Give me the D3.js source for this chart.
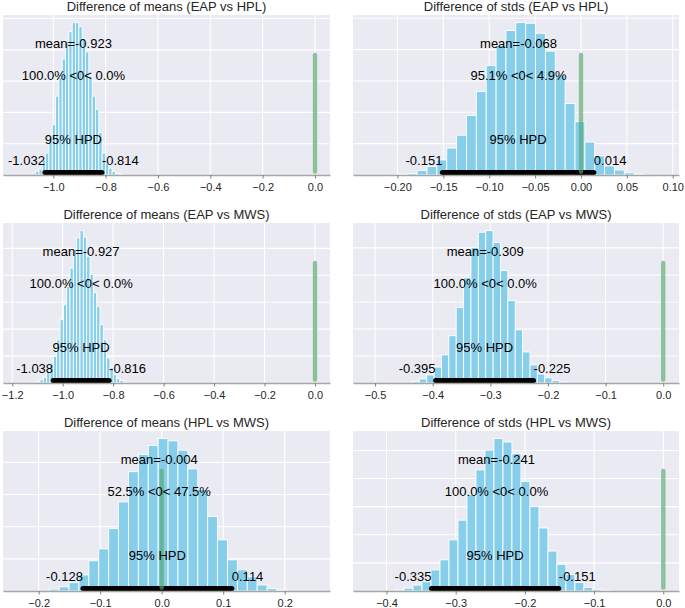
<!DOCTYPE html>
<html><head><meta charset="utf-8">
<script src="https://cdn.jsdelivr.net/npm/d3@7"></script>
<style>
body{margin:0;background:#fff}
svg{display:block}
text{font-family:"Liberation Sans",Arial,Helvetica,sans-serif}
</style>
</head><body>
<svg id="chart" width="685" height="608"></svg>
<script>
// ---- data ----
const titles = [
  "Difference of means (EAP vs HPL)", "Difference of stds (EAP vs HPL)",
  "Difference of means (EAP vs MWS)", "Difference of stds (EAP vs MWS)",
  "Difference of means (HPL vs MWS)", "Difference of stds (HPL vs MWS)"
];
const means   = [-0.923, -0.068, -0.927, -0.309, -0.004, -0.241];
const hpdLow  = [-1.032, -0.151, -1.038, -0.395, -0.128, -0.335];
const hpdHigh = [-0.814,  0.014, -0.816, -0.225,  0.114, -0.151];
const pctBelow = ["100.0%", "95.1%", "100.0%", "100.0%", "52.5%", "100.0%"];
const pctAbove = ["0.0%", "4.9%", "0.0%", "0.0%", "47.5%", "0.0%"];
const refVal = 0;

const binStart = [-1.08, -0.2, -1.103, -0.436, -0.1828, -0.3877];
const binWidth = [0.0127, 0.01075, 0.0132, 0.0128, 0.0161, 0.013];
const counts1 = [6, 12, 19, 48, 70, 113, 161, 252, 313, 371, 426, 458, 487, 487, 474, 435, 394, 316, 252, 210, 135, 70, 38, 22, 11, 5, 3];
const counts2 = [2, 5, 14, 27, 48, 86, 127, 190, 266, 349, 414, 461, 486, 484, 452, 395, 319, 228, 170, 105, 61, 29, 16, 7, 3];
const counts3 = [6, 12, 21, 43, 68, 99, 161, 235, 291, 359, 427, 496, 539, 566, 542, 471, 403, 335, 285, 217, 161, 93, 56, 31, 16, 9, 4];
const counts4 = [6, 15, 30, 59, 104, 175, 279, 390, 502, 558, 564, 520, 416, 305, 197, 115, 67, 33, 19, 9, 4];
const counts5 = [6, 13, 26, 50, 94, 131, 194, 277, 371, 425, 453, 474, 467, 438, 380, 316, 232, 159, 97, 66, 44, 19, 8, 3];
const counts6 = [4, 10, 21, 33, 75, 111, 182, 252, 343, 431, 501, 542, 530, 489, 390, 300, 224, 142, 95, 59, 30, 13, 6, 2];
const allCounts = [counts1, counts2, counts3, counts4, counts5, counts6];

const xTicks1 = [-1.0, -0.8, -0.6, -0.4, -0.2, 0.0];
const xTicks2 = [-0.20, -0.15, -0.10, -0.05, 0.00, 0.05, 0.10];
const xTicks3 = [-1.2, -1.0, -0.8, -0.6, -0.4, -0.2, 0.0];
const xTicks4 = [-0.5, -0.4, -0.3, -0.2, -0.1, 0.0];
const xTicks5 = [-0.2, -0.1, 0.0, 0.1, 0.2];
const xTicks6 = [-0.4, -0.3, -0.2, -0.1, 0.0];
const allTicks = [xTicks1, xTicks2, xTicks3, xTicks4, xTicks5, xTicks6];
const tickDecimals = [1, 2, 1, 1, 1, 1];
const xLimits = [[-1.192, 0.0573], [-0.2484, 0.1068], [-1.2366, 0.0595], [-0.5383, 0.0274], [-0.258, 0.2737], [-0.4484, 0.0227]];
const gridStep = 100;

// ---- layout ----
const colX = [3, 353], colW = [327, 326];
const rowY = [15, 223, 431], plotH = 160;
const svg = d3.select("#chart");
const minus = s => s.replace("-", "\u2212");

titles.forEach((title, i) => {
  const col = i % 2, row = Math.floor(i / 2);
  const w = colW[col], h = plotH;
  const g = svg.append("g").attr("transform", `translate(${colX[col]},${rowY[row]})`);
  const counts = allCounts[i];
  const x = d3.scaleLinear().domain(xLimits[i]).range([0, w]);
  const ymax = d3.max(counts) * 1.05;
  const y = d3.scaleLinear().domain([0, ymax]).range([h, 0]);

  g.append("rect").attr("width", w).attr("height", h).attr("fill", "#eaeaf2");

  // grid
  g.selectAll(null).data(d3.range(gridStep, ymax, gridStep)).join("line")
    .attr("x1", 0).attr("x2", w).attr("y1", d => y(d)).attr("y2", d => y(d))
    .attr("stroke", "#fff").attr("stroke-width", 1.1);
  g.selectAll(null).data(allTicks[i]).join("line")
    .attr("x1", d => x(d)).attr("x2", d => x(d)).attr("y1", 0).attr("y2", h)
    .attr("stroke", "#fff").attr("stroke-width", 1.1);

  // histogram
  const bins = counts.map((c, j) => ({x0: binStart[i] + j * binWidth[i], x1: binStart[i] + (j + 1) * binWidth[i], c}));
  g.selectAll(null).data(bins).join("rect")
    .attr("x", d => x(d.x0)).attr("width", d => x(d.x1) - x(d.x0))
    .attr("y", d => y(d.c)).attr("height", d => h - y(d.c))
    .attr("fill", "#87ceeb").attr("stroke", "#fff").attr("stroke-width", 0.9);

  // HPD bar
  g.append("line")
    .attr("x1", x(hpdLow[i])).attr("x2", x(hpdHigh[i]))
    .attr("y1", y(ymax * 0.016)).attr("y2", y(ymax * 0.016))
    .attr("stroke", "#000").attr("stroke-width", 5).attr("stroke-linecap", "round");

  // reference line
  g.append("line")
    .attr("x1", x(refVal)).attr("x2", x(refVal))
    .attr("y1", y(ymax * 0.02)).attr("y2", y(ymax * 0.75))
    .attr("stroke", "#55a868").attr("stroke-opacity", 0.65)
    .attr("stroke-width", 4.3).attr("stroke-linecap", "round");

  // axis
  const axis = d3.axisBottom(x).tickValues(allTicks[i]).tickSize(3.5).tickPadding(4.5).tickSizeOuter(0)
    .tickFormat(d => minus(d.toFixed(tickDecimals[i])));
  const ag = g.append("g").attr("transform", `translate(0,${h})`).call(axis);
  ag.select(".domain").attr("stroke", "#a6a6a6").attr("stroke-width", 1.6);
  ag.selectAll(".tick line").attr("stroke", "#808080").attr("stroke-width", 1);
  ag.selectAll(".tick text").attr("font-size", 11).attr("fill", "#262626")
    .attr("font-family", '"Liberation Sans",Arial,sans-serif');

  // annotations
  const t = (xv, yf, txt, anchor) => g.append("text")
    .attr("x", x(xv)).attr("y", y(ymax * yf)).attr("text-anchor", anchor)
    .attr("font-size", 13).attr("fill", "#000").text(txt);
  t(means[i], 0.795, "mean=" + means[i].toFixed(3), "middle");
  t(means[i], 0.595, `${pctBelow[i]} <${refVal}< ${pctAbove[i]}`, "middle");
  t((hpdLow[i] + hpdHigh[i]) / 2, 0.195, "95% HPD", "middle");
  t(hpdLow[i], 0.065, String(hpdLow[i]), "end");
  t(hpdHigh[i], 0.065, String(hpdHigh[i]), "start");

  // title
  g.append("text").attr("x", w / 2).attr("y", -4.5).attr("text-anchor", "middle")
    .attr("font-size", 13).attr("fill", "#262626").text(title);
});
</script>
</body></html>
